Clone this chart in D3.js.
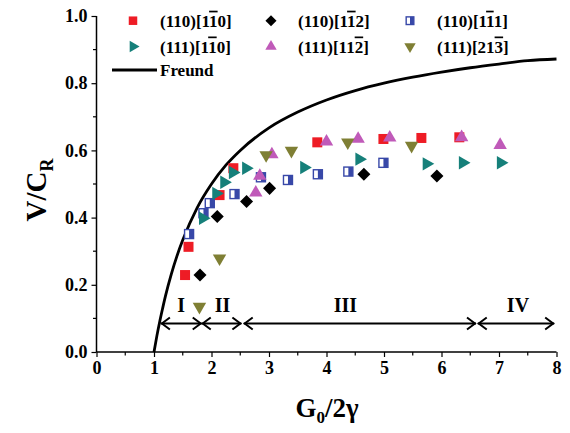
<!DOCTYPE html>
<html><head><meta charset="utf-8">
<script src="https://cdn.jsdelivr.net/npm/d3@7/dist/d3.min.js"></script>
<style>
body{margin:0;background:#fff}
text{font-family:"Liberation Serif","Times New Roman",serif;font-weight:bold;fill:#000}
</style>
</head><body>
<svg id="chart" width="570" height="433"></svg>
<script>
// ---- data ----
const xTicks = [0,1,2,3,4,5,6,7,8];
const yTicks = [0.0,0.2,0.4,0.6,0.8,1.0];

const s110_1b10_x = [1.54,1.60,2.14,2.38,3.84,4.99,5.65,6.31];
const s110_1b10_y = [0.229,0.313,0.467,0.547,0.624,0.634,0.637,0.639];

const s110_1b12_x = [1.80,2.10,2.61,3.01,4.65,5.92];
const s110_1b12_y = [0.229,0.403,0.448,0.487,0.529,0.524];

const s110_1b11_x = [1.61,1.86,1.97,2.40,2.86,3.33,3.85,4.38,4.99];
const s110_1b11_y = [0.351,0.413,0.443,0.470,0.520,0.512,0.529,0.537,0.563];

const s111_1b10_x = [1.85,2.08,2.22,2.37,2.60,3.61,4.57,5.74,6.37,7.03];
const s111_1b10_y = [0.398,0.472,0.505,0.534,0.547,0.549,0.574,0.560,0.563,0.563];

const s111_112b_x = [2.77,2.84,3.05,4.00,4.55,5.10,6.35,7.02];
const s111_112b_y = [0.474,0.524,0.588,0.626,0.634,0.638,0.639,0.616];

const s111_213b_x = [1.79,2.14,2.95,3.39,4.37,5.48];
const s111_213b_y = [0.135,0.279,0.586,0.599,0.624,0.614];

const freundX = [1.0,1.05,1.1,1.15,1.2,1.3,1.4,1.5,1.75,2.0,2.25,2.5,3.0,3.5,4.0,4.5,5.0,5.5,6.0,6.5,7.0,7.5,8.0];
const freundY = [0.0,0.048,0.091,0.130,0.167,0.231,0.286,0.333,0.429,0.500,0.556,0.600,0.667,0.714,0.750,0.778,0.800,0.818,0.833,0.846,0.857,0.867,0.872];

// legend labels: "_" marks an overbarred digit
const seriesLabels = ["(110)[1_10]","(110)[1_12]","(110)[1_11]","(111)[1_10]","(111)[11_2]","(111)[21_3]"];
const seriesColors = ["#ee1c25","#000000","#3848a8","#16807a","#c05ab9","#7f7f34"];
const seriesShapes = ["square","diamond","halfsquare","right","up","down"];
const seriesX = [s110_1b10_x,s110_1b12_x,s110_1b11_x,s111_1b10_x,s111_112b_x,s111_213b_x];
const seriesY = [s110_1b10_y,s110_1b12_y,s110_1b11_y,s111_1b10_y,s111_112b_y,s111_213b_y];

const regionLabels = ["I","II","III","IV"];
const regionStart = [1.12,1.83,2.56,6.63];
const regionEnd   = [1.83,2.52,6.60,7.96];
const regionLabelX = [1.47,2.19,4.33,7.33];

// ---- layout ----
const svg = d3.select("#chart");
const x = d3.scaleLinear().domain([0,8]).range([96.5,556.5]);
const y = d3.scaleLinear().domain([0,1]).range([352,16]);

// axes
const xAxis = d3.axisBottom(x).tickValues(xTicks).tickFormat(d3.format("d")).tickSize(5).tickPadding(4);
const yAxis = d3.axisLeft(y).tickValues(yTicks).tickFormat(d3.format(".1f")).tickSize(5).tickPadding(4);
const gx = svg.append("g").attr("transform","translate(0,352)").call(xAxis);
const gy = svg.append("g").attr("transform","translate(96.5,0)").call(yAxis);
// minor ticks
gx.selectAll(".minor").data(d3.range(0.5,8,1)).enter().append("line")
  .attr("x1",d=>x(d)).attr("x2",d=>x(d)).attr("y1",0).attr("y2",3.5).attr("stroke","#000").attr("stroke-width",1.2);
gy.selectAll(".minor").data(d3.range(0.1,1,0.2)).enter().append("line")
  .attr("y1",d=>y(d)).attr("y2",d=>y(d)).attr("x1",0).attr("x2",-3.5).attr("stroke","#000").attr("stroke-width",1.2);
[gx,gy].forEach(g=>{
  g.select(".domain").attr("stroke","#000").attr("stroke-width",1.5);
  g.selectAll(".tick line").attr("stroke","#000").attr("stroke-width",1.2);
  g.selectAll("text").style("font-family","'Liberation Serif',serif").style("font-weight","bold").style("font-size","18px").attr("fill","#000");
});
gx.select(".domain").attr("d","M96.5,0H556.5");
gy.select(".domain").attr("d","M0,16V352");

// axis titles
const yt = svg.append("text").attr("transform","translate(46,190) rotate(-90)").attr("text-anchor","middle").style("font-size","29px");
yt.append("tspan").text("V/C");
yt.append("tspan").text("R").style("font-size","18px").attr("dy",7);
const xt = svg.append("text").attr("x",327).attr("y",417).attr("text-anchor","middle").style("font-size","27px");
xt.append("tspan").text("G");
xt.append("tspan").text("0").style("font-size","17px").attr("dy",6);
xt.append("tspan").text("/2γ").attr("dy",-6);

// Freund curve
svg.append("path").datum(freundX.map((d,i)=>[d,freundY[i]]))
  .attr("d",d3.line().x(d=>x(d[0])).y(d=>y(d[1])).curve(d3.curveMonotoneX))
  .attr("fill","none").attr("stroke","#000").attr("stroke-width",2.8);

// markers
function drawMarker(g, shape, color, cx, cy, scale){
  scale = scale||1;
  const gg = g.append("g").attr("transform",`translate(${cx},${cy})`);
  if(shape==="square"){
    gg.append("rect").attr("x",-5*scale).attr("y",-5*scale).attr("width",10*scale).attr("height",10*scale).attr("fill",color);
  } else if(shape==="diamond"){
    gg.append("path").attr("d",d3.symbol(d3.symbolSquare,85*scale*scale)()).attr("transform","rotate(45)").attr("fill",color);
  } else if(shape==="halfsquare"){
    const s=9*scale;
    gg.append("rect").attr("x",-s/2).attr("y",-s/2).attr("width",s).attr("height",s).attr("fill","#fff").attr("stroke",color).attr("stroke-width",1.4);
    gg.append("rect").attr("x",0).attr("y",-s/2).attr("width",s/2).attr("height",s).attr("fill",color);
  } else {
    const rot = shape==="up"?0:(shape==="right"?90:180);
    gg.append("path").attr("d",d3.symbol(d3.symbolTriangle,78*scale*scale)()).attr("transform",`rotate(${rot})`).attr("fill",color);
  }
}
const pts = svg.append("g");
seriesX.forEach((xs,si)=>{
  xs.forEach((xv,i)=>drawMarker(pts, seriesShapes[si], seriesColors[si], x(xv), y(seriesY[si][i])));
});

// region arrows
const ya = y(0.085);
const rg = svg.append("g");
regionLabels.forEach((lab,i)=>{
  const x0 = x(regionStart[i]), x1 = x(regionEnd[i]);
  rg.append("path").attr("d",`M${x0},${ya}H${x1}`).attr("stroke","#000").attr("stroke-width",2).attr("fill","none");
  rg.append("path").attr("d",`M${x0+9},${ya-6}L${x0+1},${ya}L${x0+9},${ya+6}M${x1-9},${ya-6}L${x1-1},${ya}L${x1-9},${ya+6}`)
    .attr("stroke","#000").attr("stroke-width",2).attr("fill","none");
  rg.append("text").attr("x",x(regionLabelX[i])).attr("y",y(0.12)).attr("text-anchor","middle").style("font-size","20px").text(lab);
});

// legend
function legendText(g, tx, ty, label){
  const t = g.append("text").attr("x",tx).attr("y",ty).style("font-size","17px");
  let i=0;
  while(i<label.length){
    if(label[i]==="_"){ t.append("tspan").text(label[i+1]).style("text-decoration","overline"); i+=2; }
    else { let j=i; while(j<label.length && label[j]!=="_") j++; t.append("tspan").text(label.slice(i,j)); i=j; }
  }
}
const lg = svg.append("g");
const colX = [133,271,410];
const rowY = [20.7,46.5];
seriesLabels.forEach((lab,i)=>{
  const cx = colX[i%3], cy = rowY[Math.floor(i/3)];
  drawMarker(lg, seriesShapes[i], seriesColors[i], cx, cy, 0.85);
  legendText(lg, cx+27, cy+6, lab);
});
lg.append("path").attr("d",`M112,70H157`).attr("stroke","#000").attr("stroke-width",2.8);
lg.append("text").attr("x",160).attr("y",76).style("font-size","17px").text("Freund");
</script>
</body></html>
